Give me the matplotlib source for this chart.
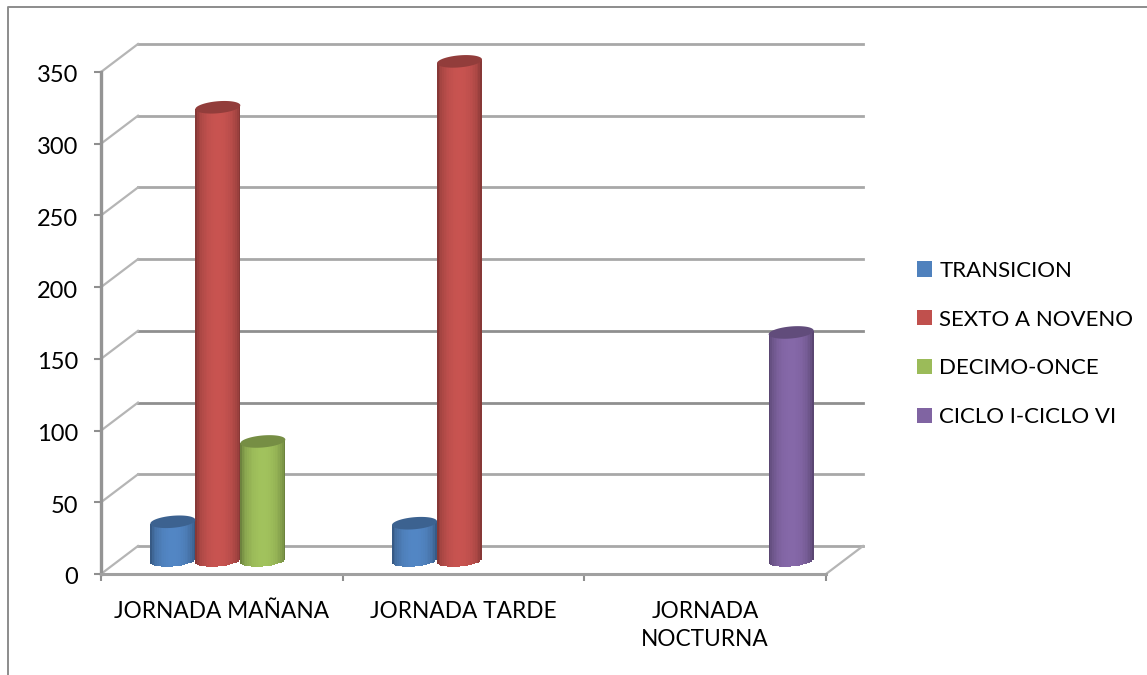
import numpy as np
import matplotlib
matplotlib.use("Agg")
import matplotlib.pyplot as plt
from matplotlib.patches import Patch
from matplotlib.transforms import Affine2D

jornadas = ["JORNADA MAÑANA", "JORNADA TARDE", "JORNADA\nNOCTURNA"]
series = ["TRANSICION", "SEXTO A NOVENO", "DECIMO-ONCE", "CICLO I-CICLO VI"]
transicion = [27, 26, None]
sexto = [316, 348, None]
decimo = [83, None, None]
ciclo = [None, None, 159]
yticks = [0, 50, 100, 150, 200, 250, 300, 350]

colores = ["#4f81bd", "#c0504d", "#9bbb59", "#8064a2"]

W, H = 1147, 675
GRIS = "#a8a8a8"

plt.rcParams["font.family"] = ["Lato", "DejaVu Sans"]

fig = plt.figure(figsize=(W / 100, H / 100), dpi=100)
ax = fig.add_axes([101 / W, 1 - 574 / H, 725 / W, 502 / H])
ax.set_xlim(-0.5, 2.5)
ax.set_ylim(0, 350)
ax.patch.set_alpha(0)

# la pared del fondo y el centro de las barras van corridos en pixeles
fondo = ax.transData + Affine2D().translate(37, 28)
medio = ax.transData + Affine2D().translate(18.5, 13.5)

for v in yticks:
    tono = "#8f8f8f" if v in (100, 150) else GRIS
    ax.plot([-0.5, 2.5], [v, v], transform=fondo, color=tono, lw=2, clip_on=False, zorder=1)
    ax.plot([-0.5, -0.5 + 37 / 241.67], [v, v + 28 * 350 / 502], color="#b5b5b5", lw=1.6,
            clip_on=False, zorder=1)
ax.plot([2.5, 2.5 + 37 / 241.67], [0, 28 * 350 / 502], color="#b5b5b5", lw=1.6,
        clip_on=False, zorder=1)


def cilindro(ax, x, valor, ancho, color):
    """Barra con sombreado lateral y tapa eliptica."""
    base = np.array(matplotlib.colors.to_rgb(color))
    b = 4.2  # semieje de la tapa, en unidades de y
    inclinacion = 1.3
    n = 26
    bordes = np.linspace(-1, 1, n + 1)
    for i in range(n):
        u = (bordes[i] + bordes[i + 1]) / 2
        luz = 0.62 + 0.42 * np.sqrt(max(1 - (u / 0.98) ** 2, 0))
        abajo = -b * np.sqrt(1 - u ** 2) + inclinacion * u
        arriba = valor + inclinacion * u
        ax.bar(x + u * ancho / 2, arriba - abajo, ancho / n * 1.05, bottom=abajo,
               color=np.clip(base * luz, 0, 1), transform=medio, clip_on=False, zorder=3,
               linewidth=0)
    t = np.linspace(0, 2 * np.pi, 80)
    ax.fill(x + ancho / 2 * np.cos(t), valor + b * np.sin(t) + inclinacion * np.cos(t),
            color=base * 0.76, transform=medio, clip_on=False, zorder=4, linewidth=0)


ancho = 45 / 241.67
for j, valores in enumerate([transicion, sexto, decimo, ciclo]):
    for i, v in enumerate(valores):
        if v is not None:
            cilindro(ax, i + (j - 1.5) * ancho, v, ancho, colores[j])

for lado in ["top", "right"]:
    ax.spines[lado].set_visible(False)
ax.spines["left"].set_color("#949494")
ax.spines["left"].set_linewidth(2.4)
ax.spines["bottom"].set_color("#a0a0a0")
ax.spines["bottom"].set_linewidth(2.2)

ax.set_yticks(yticks)
ax.set_xticks([-0.5, 0.5, 1.5, 2.5])
ax.set_xticklabels([])
ax.tick_params(axis="y", length=5, width=1.5, color="#8f8f8f", pad=11.5, labelsize=17,
               labelcolor="black")
ax.tick_params(axis="x", length=5, width=1.5, color="#8f8f8f")
for etiqueta in ax.get_yticklabels():
    etiqueta.set_transform(etiqueta.get_transform() + Affine2D().translate(0, -2))
for i, nombre in enumerate(jornadas):
    ax.annotate(nombre, (i, 0), xycoords=ax.get_xaxis_transform(), xytext=(0, -19.5),
                textcoords="offset points", ha="center", va="top", fontsize=16.3,
                linespacing=1.42)

asas = [Patch(facecolor=c, edgecolor="none") for c in colores]
ax.legend(asas, series, loc="center left", bbox_to_anchor=(917 / W, 1 - 344 / H),
          bbox_transform=fig.transFigure, frameon=False, fontsize=16, handlelength=0.68,
          handleheight=0.68, handletextpad=0.32, labelspacing=1.30, borderpad=0,
          borderaxespad=0)

# marco exterior de la imagen
fig.add_artist(plt.Line2D([8 / W, 8 / W, 1], [0, 1 - 7 / H, 1 - 7 / H], color="#8c8c8c", lw=1.4))

plt.savefig("out.png", dpi=100)
plt.close(fig)
